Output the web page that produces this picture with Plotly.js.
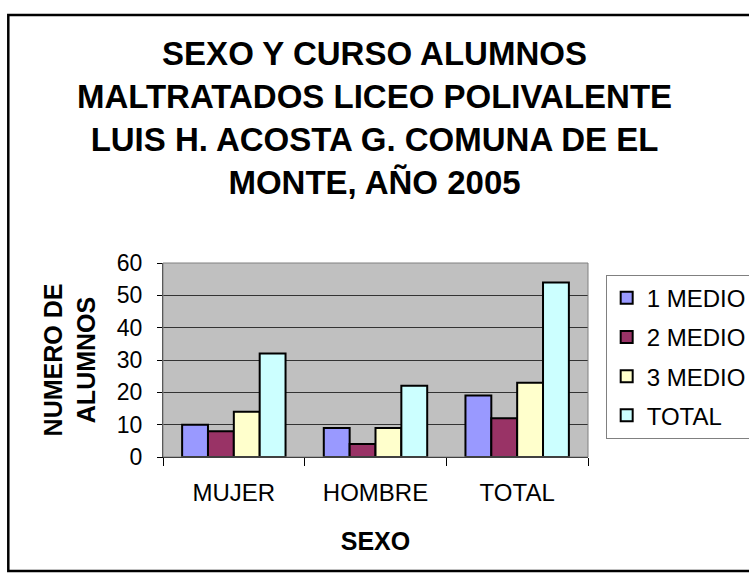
<!DOCTYPE html>
<html>
<head>
<meta charset="utf-8">
<script src="https://cdn.plot.ly/plotly-3.0.1.min.js"></script>
<style>
  html, body { margin: 0; padding: 0; background: #fff; }
  #chart { width: 749px; height: 580px; }
</style>
</head>
<body>
<div id="chart"></div>
<script>
// categories on the x axis (sex)
var sexo = ["MUJER", "HOMBRE", "TOTAL"];
// series = course
var cursos = ["1 MEDIO", "2 MEDIO", "3 MEDIO", "TOTAL"];
var medio1 = [10, 9, 19];
var medio2 = [8, 4, 12];
var medio3 = [14, 9, 23];
var total = [32, 22, 54];
var colores = ["#9999FF", "#993366", "#FFFFCC", "#CCFFFF"];
var yTicks = [0, 10, 20, 30, 40, 50, 60];

var FONT = "Liberation Sans, Arial, sans-serif";
var series = [medio1, medio2, medio3, total];

var traces = series.map(function (vals, i) {
  return {
    type: "bar", x: sexo, y: vals, name: cursos[i], legendgroup: "g" + i,
    marker: { color: colores[i], line: { color: "#000", width: 2 } },
    hoverinfo: "x+y+name"
  };
});

var layout = {
  width: 749, height: 580,
  paper_bgcolor: "#fff", plot_bgcolor: "#C0C0C0",
  margin: { l: 163, r: 161, t: 263, b: 123, autoexpand: false },
  font: { family: FONT, color: "#000" },
  title: {
    text: "SEXO Y CURSO ALUMNOS<br>MALTRATADOS LICEO POLIVALENTE<br>LUIS H. ACOSTA G. COMUNA DE EL<br>MONTE, AÑO 2005",
    font: { family: FONT, size: 33, color: "#000", weight: "bold" },
    x: 0.5, xref: "container", xanchor: "center", yref: "container", y: 1 - 65 / 580, yanchor: "top"
  },
  barmode: "group", bargap: 0.27, bargroupgap: 0,
  xaxis: {
    type: "category", tickson: "boundaries", ticks: "outside", ticklen: 8, tickcolor: "#000",
    showline: true, linecolor: "#000", linewidth: 1, showgrid: false,
    tickfont: { size: 24, family: FONT }, ticklabelstandoff: 14,
    title: { text: "SEXO", font: { size: 25, family: FONT, weight: "bold" }, standoff: 27 }
  },
  yaxis: {
    range: [0, 60], tickvals: yTicks, ticks: "outside", ticklen: 5, tickcolor: "#000",
    showline: true, linecolor: "#333", linewidth: 1, zeroline: false,
    showgrid: true, gridcolor: "#333", gridwidth: 1,
    tickfont: { size: 23, family: FONT }, ticklabelstandoff: 10,
    title: { text: "NUMERO DE<br>ALUMNOS", font: { size: 25, family: FONT, weight: "bold" }, standoff: 14 }
  },
  legend: {
    x: 1.0416, xanchor: "left", y: 0.94, yanchor: "top",
    bgcolor: "#fff", bordercolor: "#808080", borderwidth: 1,
    font: { size: 24, family: FONT }, traceorder: "grouped", tracegroupgap: 5
  },
  shapes: [
    { type: "rect", xref: "paper", yref: "paper", x0: 0, x1: 1, y0: 0, y1: 1,
      line: { color: "#808080", width: 1 }, fillcolor: "rgba(0,0,0,0)", layer: "above" },
    { type: "rect", xref: "paper", yref: "paper", x0: -0.364, x1: 1.45, y0: -0.588, y1: 2.278,
      line: { color: "#000", width: 2.5 }, fillcolor: "rgba(0,0,0,0)", layer: "below" }
  ]
};

Plotly.newPlot("chart", traces, layout, { displayModeBar: false, responsive: false });
</script>
</body>
</html>
